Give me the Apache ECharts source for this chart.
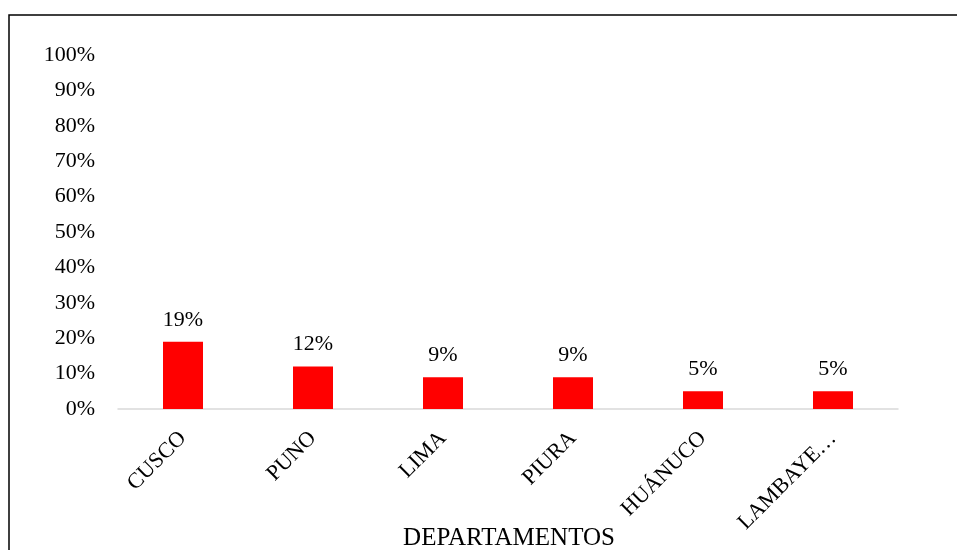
<!DOCTYPE html>
<html>
<head>
<meta charset="utf-8">
<script src="https://cdn.jsdelivr.net/npm/echarts@6.0.0/dist/echarts.min.js"></script>
<style>
  html, body { margin: 0; padding: 0; background: #fff; }
  #chart { width: 957px; height: 550px; }
</style>
</head>
<body>
<div id="chart"></div>
<script>
const departamentos = ['CUSCO', 'PUNO', 'LIMA', 'PIURA', 'HUÁNUCO', 'LAMBAYE…']
const porcentajes = [19, 12, 9, 9, 5, 5]
const ejeX = 'DEPARTAMENTOS'

const font = '"Liberation Serif", "Times New Roman", serif'

const chart = echarts.init(document.getElementById('chart'))
chart.setOption({
  animation: false,
  textStyle: { fontFamily: font },
  // axis title drawn as a title so it is not pushed down by the rotated labels
  title: {
    text: ejeX,
    left: 509,
    top: 526,
    textAlign: 'center',
    padding: 0,
    textStyle: { fontFamily: font, fontSize: 25, fontWeight: 'normal', color: '#000' },
  },
  graphic: [
    {
      type: 'rect',
      shape: { x: 9, y: 15, width: 1000, height: 600 },
      style: { fill: 'none', stroke: '#000', lineWidth: 1.5 },
      silent: true,
    },
  ],
  grid: {
    left: 118,
    right: 59,
    top: 55,
    bottom: 141,
    outerBoundsMode: 'none',
    containLabel: false,
  },
  xAxis: {
    type: 'category',
    data: departamentos,
    axisLine: { lineStyle: { color: '#d9d9d9', width: 1.5 } },
    axisTick: { show: false },
    axisLabel: {
      rotate: 45,
      margin: 26,
      fontFamily: font,
      fontSize: 22,
      color: '#000',
    },
  },
  yAxis: {
    type: 'value',
    min: 0,
    max: 100,
    interval: 10,
    splitLine: { show: false },
    axisLine: { show: false },
    axisTick: { show: false },
    axisLabel: {
      formatter: '{value}%',
      margin: 23,
      fontFamily: font,
      fontSize: 22,
      color: '#000',
    },
  },
  series: [
    {
      type: 'bar',
      data: porcentajes,
      barWidth: 40,
      itemStyle: { color: '#ff0000' },
      label: {
        show: true,
        position: 'top',
        distance: 11,
        formatter: '{c}%',
        fontFamily: font,
        fontSize: 22,
        color: '#000',
      },
    },
  ],
})
</script>
</body>
</html>
